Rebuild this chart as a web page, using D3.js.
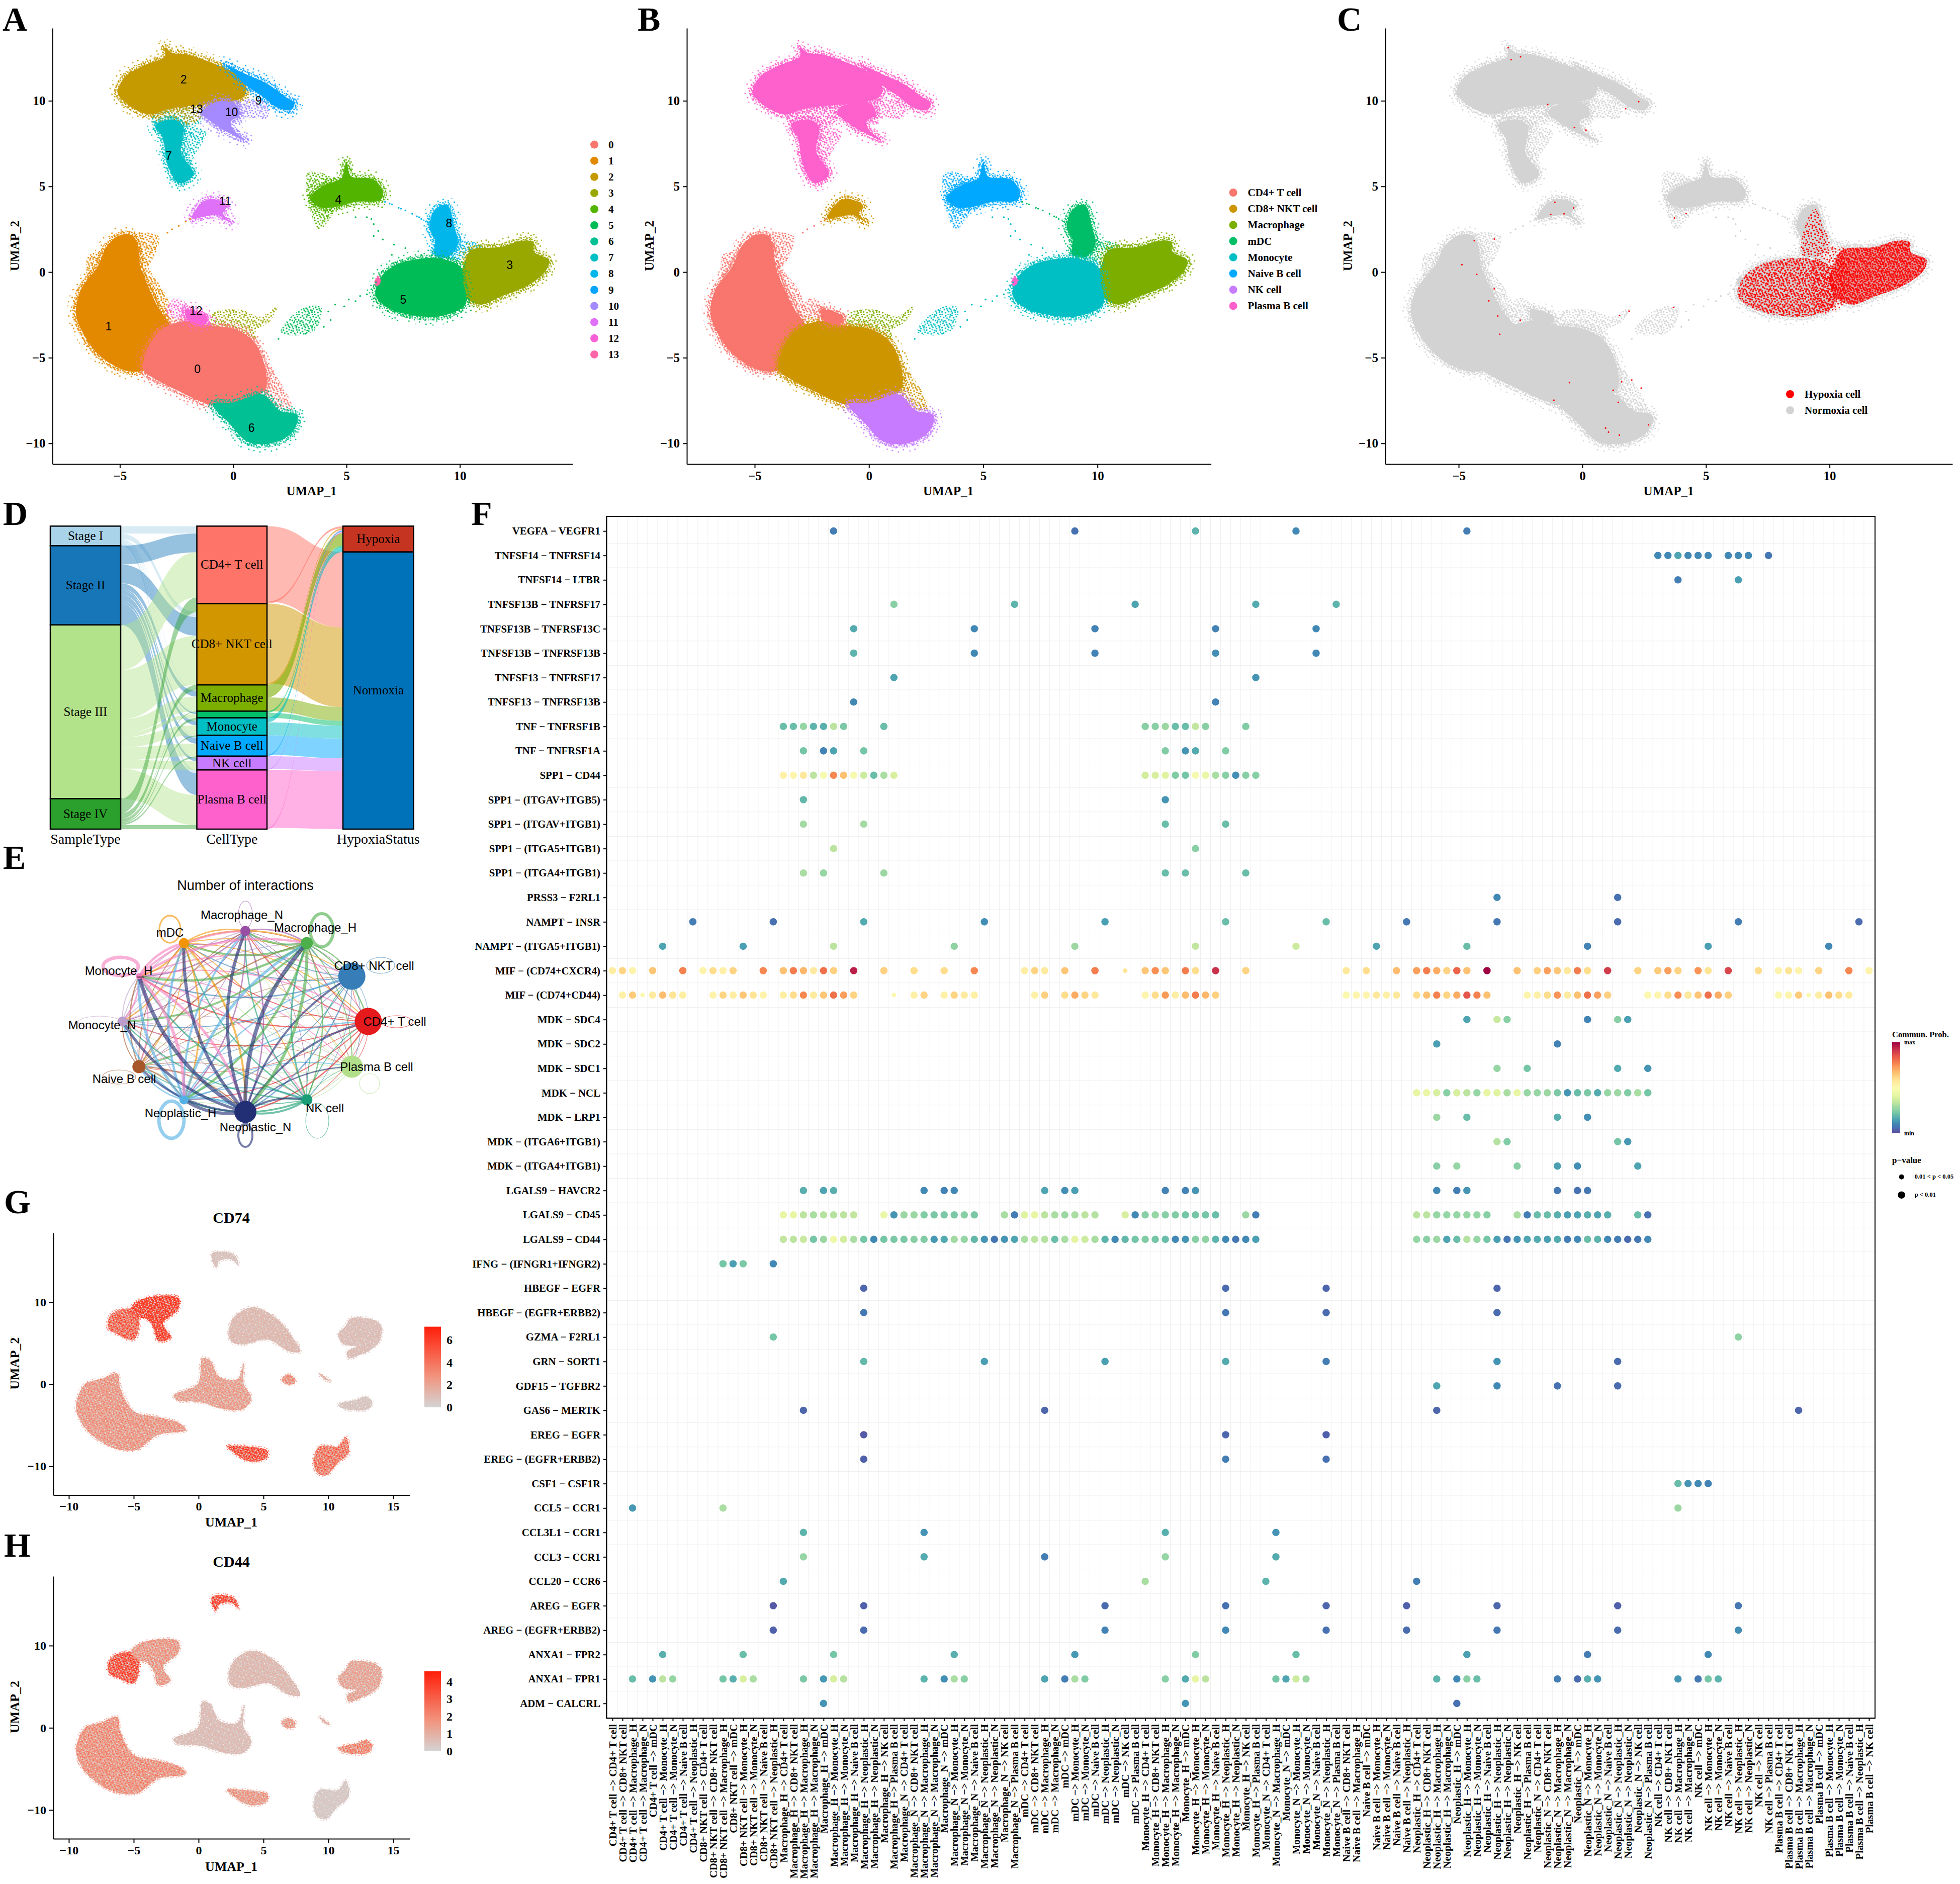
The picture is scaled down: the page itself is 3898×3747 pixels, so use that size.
<!DOCTYPE html>
<html>
<head>
<meta charset="utf-8">
<script src="https://cdn.jsdelivr.net/npm/d3@7"></script>
<style>
  body { margin: 0; background: #fff; }
  text { fill: #000; }
  .serif { font-family: "Liberation Serif", serif; }
  .bold { font-family: "Liberation Serif", serif; font-weight: bold; }
  .sans { font-family: "Liberation Sans", sans-serif; }
</style>
</head>
<body>
<svg id="fig" width="3898" height="3747"></svg>
<script>
// ---- umap outlines (umap units) ----
var clusterNames = ["0","1","2","3","4","5","6","7","8","9","10","11","12","13"];
var clusterColors = ["#F8766D","#E38900","#C49A00","#99A800","#53B400","#00BC56","#00C094","#00BFC4","#00B6EB","#06A4FF","#A58AFF","#DF70F8","#FB61D7","#FF66A8"];
var clusterOutlines = [
  [[-3.85,-4.71],[-3.2,-3.4],[-2,-2.84],[-1.09,-3.12],[.02,-3.31],[.85,-3.97],[1.31,-5.09],[1.44,-6.77],[.94,-7.33],[.02,-7.8],[-1.09,-7.71],[-2.38,-6.96],[-3.48,-6.21],[-3.94,-5.74]],
  [[-6.94,-2.38],[-6.7,-.97],[-5.97,.34],[-5.6,1.46],[-5.05,2.11],[-4.49,2.17],[-4.22,1.65],[-4.1,.34],[-3.7,-.97],[-3.3,-2.1],[-2.7,-3.4],[-3.2,-5],[-3.94,-5.74],[-4.77,-5.74],[-5.87,-4.9],[-6.61,-3.6]],
  [[-5.1,10.5],[-4.77,11.4],[-4.03,12],[-3.02,12.6],[-3.02,13.1],[-2.7,12.8],[-2,12.7],[-.9,12.2],[.02,11.65],[.57,10.9],[.48,10.25],[-.72,9.85],[-2,9.7],[-2.93,9.5],[-3.66,9.2],[-4.4,9.55],[-4.95,10.15]],
  [[10.15,.34],[10.5,1.27],[11.8,1.46],[12.73,1.83],[13.24,1.74],[13.28,1.18],[13.92,.71],[13.83,.15],[13.1,-.7],[11.8,-1.44],[10.88,-1.9],[10.24,-1.44],[10,-.4]],
  [[3.4,4.3],[3.8,4.9],[4.5,5.3],[4.8,5.5],[5,6.4],[5.2,5.6],[6.2,5.4],[6.6,4.7],[6.5,4.2],[5.4,4.1],[4.5,3.8],[3.8,3.8]],
  [[6.56,-.22],[7.2,.43],[8.12,.75],[9.04,.8],[10,.34],[10.15,-.6],[10.24,-1.9],[9.23,-2.56],[8.12,-2.56],[6.83,-2.1],[6.28,-1.35]],
  [[-.9,-7.71],[.02,-7.61],[1.31,-7.15],[2.04,-8.08],[2.82,-8.36],[2.69,-9.2],[2.04,-9.86],[1.12,-10.05],[.57,-9.86],[-.17,-8.83]],
  [[-3.4,8.6],[-2.6,8.9],[-2.2,8.5],[-2.3,7],[-1.75,5.7],[-2.4,5.2],[-2.9,6.3],[-3.1,7.8]],
  [[8.65,2.6],[8.95,3.7],[9.45,3.9],[9.75,2.7],[9.9,1.6],[9.5,.9],[8.9,1],[8.9,1.9]],
  [[-.35,12.1],[.57,11.55],[1.5,11],[2.4,10.15],[2.7,9.88],[2.56,9.47],[1.95,9.6],[1.3,10.25],[.57,10.9],[.1,11.55]],
  [[-1.4,9.3],[-.7,9.95],[.1,9.8],[.3,9.2],[-.1,8.8],[0,8.3],[.55,7.7],[-.3,8.2],[-1,8.8]],
  [[-1.82,3.14],[-1.36,4.08],[-.9,4.27],[-.26,3.9],[-.44,3.42],[-.13,2.92],[-.72,3.33],[-1.27,3.24]],
  [[-2.1,-2.2],[-1.6,-2.3],[-1.15,-2.6],[-1.2,-3],[-2,-2.8]],
  [[6.25,-.55],[6.4,-.25],[6.5,-.6],[6.35,-.8]]
];
var clusterOrder = [1,0,6,12,2,9,10,7,11,4,8,3,5,13];
var clusterLabelPos = [[-1.58,-5.65],[-5.5,-3.16],[-2.19,11.24],[12.2,.4],[4.64,4.23],[7.5,-1.6],[.81,-9.1],[-2.85,6.79],[9.52,2.86],[1.12,10],[-.07,9.35],[-.35,4.13],[-1.64,-2.26],[-1.62,9.5]];
// thin clouds next to the dense areas: [cluster, outline]
var sparseClouds = [
  [3,[[-.9,-3.2],[-.9,-2.4],[.3,-2.2],[1.2,-2.6],[1.95,-2],[1.6,-2.9],[1,-3.4],[1,-3.9],[0,-3.3]]],
  [5,[[2.1,-3.5],[2.4,-2.8],[3.3,-2],[3.9,-2.1],[3.6,-3.4],[2.6,-3.7]]],
  [1,[[-4.4,2.2],[-3.3,2.1],[-3.4,1.2],[-3.9,.2],[-4.2,1]]],
  [1,[[-4.3,1.7],[-3.8,.2],[-3.1,-1],[-2.8,-2.2],[-3.4,-3]]],
  [1,[[-6.4,1],[-5.8,1.1],[-6.4,-.5]]],
  [0,[[1.2,-5],[1.6,-5.5],[2.6,-8],[2,-8],[1.3,-7]]],
  [7,[[-2,8.4],[-1.2,8.2],[-1.8,6.6],[-2,5.9],[-2.3,7.5]]],
  [10,[[-.4,9.9],[1.5,9.9],[1.5,9],[.5,9],[.3,8.6],[-.4,9.2]]],
  [7,[[-3.6,9.5],[-1.6,9.9],[-1.4,8.8],[-3.2,8]]],
  [2,[[-3.6,9.3],[-1,10],[-1.6,8.8],[-3,8.4]]],
  [8,[[9.6,2.2],[10.2,1.9],[11,1.5],[10,.7],[9,.5]]],
  [4,[[3.3,5.8],[4.3,5.5],[4.5,3.8],[3.8,2.5],[3.4,3.6]]],
  [12,[[-3,-2.5],[-2.55,-1.5],[-1.8,-2.1],[-1.1,-2.6],[-1,-3.2],[-2,-2.9]]]
];
var stray8 = [[6.7,4.1],[7,3.95],[7.3,3.75],[7.6,3.6],[7.9,3.4],[8.1,3.25],[8.3,3.1],[8.5,2.95],[8.6,2.8],[6.9,4],[7.4,3.7],[8.2,3.2]];
var stray5 = [[5.4,3.2],[5.9,3.2],[6.1,3.1],[6.2,2.8],[6.4,2.4],[6.2,2.1],[6.6,1.9],[7.1,1.6],[7,1],[7.6,1.4],[8.3,1],[4.2,-2.3],[4.5,-1.9],[4.9,-2],[5.1,-1.6],[5.4,-1.7],[5.6,-1.4],[5.9,-1.3],[6.1,-1],[6.3,-.6],[4,-3.2],[4.3,-2.8],[3.2,-3.6],[2,-3.9]];
var stray1 = [[-2.9,2.3],[-2.7,2.5],[-2.4,2.7],[-2.1,2.95],[-1.9,3.1]];
var hypoxiaStrays = [[-3,13.1],[-2.88,12.4],[-2.5,12.57],[-1.4,9.78],[1.75,9.54],[2.28,9.95],[-.32,8.44],[.15,8.29],[-1.11,4.08],[-1.28,3.37],[-.74,3.4],[-.35,3.74],[3.73,3.16],[4.2,3.42],[-4.37,1.83],[-3.56,1.93],[-4.87,.43],[-4.27,-.13],[-3.56,-.97],[-3.78,-1.68],[-3.42,-2.56],[-2.51,-2.81],[-3.34,-3.63],[1.5,-2.53],[1.89,-2.28],[3.69,-2.06],[-.52,-6.45],[-1.15,-7.48],[1.59,-6.4],[2,-6.3],[2.38,-6.77],[1.25,-6.9],[1.45,-7.6],[.94,-9.11],[1.06,-9.34],[1.5,-9.52],[2.68,-8.92]];
var hypoxia8 = [[8.95,2.4],[9.4,3.7],[9.75,2.6],[10,1.7],[9.6,1],[8.9,1]];
var hypoxiaBridge = [[9.4,1],[10.6,1.4],[10.6,-1.8],[9.6,-2.4]];

var cellNames = ["CD4+ T cell","CD8+ NKT cell","Macrophage","mDC","Monocyte","Naive B cell","NK cell","Plasma B cell"];
var cellColors = ["#F8766D","#CD9600","#7CAE00","#00BE67","#00BFC4","#00A9FF","#C77CFF","#FF61CC"];
var clusterCell = [1,0,7,2,5,4,6,7,3,7,7,1,0,7];

// ---- expression umap ----
var featOutlines = [
  [[-9.44,-2.49],[-8.73,.06],[-7.56,.62],[-6.27,1.3],[-6.03,-.5],[-4.98,-3.3],[-3.1,-4],[-1.46,-4.75],[-.99,-5.6],[-3.1,-6.16],[-4.74,-7.97],[-6.38,-7.85],[-8.26,-6.16],[-9.2,-4.18]],
  [[-6.97,6.84],[-6.74,8.53],[-5.2,9.2],[-4.6,8.2],[-4.98,5.42],[-6.15,6]],
  [[-5.2,9.2],[-4.74,10.1],[-2.86,10.8],[-1.57,10.5],[-1.57,9.1],[-2.75,7.4],[-2.16,5.7],[-3.1,5.25],[-3.45,6.84],[-4.04,7.97],[-4.6,8.2]],
  [[2.3,6.27],[2.77,8.25],[4.18,9.38],[5.82,8.25],[7,6.27],[7.82,4],[7,4],[5.35,5.42],[3.47,4.86],[2.54,5.14]],
  [[-1.92,-1.36],[-.05,.06],[.3,3.16],[.89,2.88],[1.6,.9],[3,.62],[3.47,2.6],[3.47,.06],[4.06,-1.64],[3.47,-3],[1.83,-3],[.19,-2.2],[-1.69,-1.92]],
  [[2.18,-7.57],[3.47,-7.57],[5.3,-8.1],[5.23,-9],[3.94,-9.4],[2.77,-8.4]],
  [[8.87,-9],[9.34,-7.57],[10.75,-7.57],[11.34,-6.44],[11.57,-8.4],[10.75,-9.55],[9.8,-11.1],[9.1,-10.7]],
  [[10.75,-2.5],[12.16,-1.9],[12.98,-1.5],[13.38,-2.2],[13.1,-3],[11.2,-3]],
  [[10.75,6],[11.34,7.1],[11.7,8],[13.1,8],[14,7.3],[14,5.4],[13.1,4],[12.6,3.7],[11.57,3.16],[11.46,4],[12.16,4.58],[11.2,4.86]],
  [[1,15.87],[1.6,16.16],[2.77,15.76],[3.07,14.46],[2.54,15.2],[1.6,15],[1.36,14.18]],
  [[6.4,.62],[6.88,1.19],[7.46,.62],[7.35,.06],[6.64,.06]],
  [[9.3,1.36],[10.16,.34],[9.58,.73]]
];
var cd74Levels = [2.4,4.2,5.6,1.1,2.1,5,3.6,.6,.9,.7,2.6,1.4];
var cd44Levels = [1.7,3.1,1.5,.7,.6,1.5,.3,1.9,1.2,3.2,1.4,.9];
var cd74Ticks = [0,2,4,6];
var cd44Ticks = [0,1,2,3,4];

// ---- sankey ----
var stageNames = ["Stage I","Stage II","Stage III","Stage IV"];
var stageColors = ["#A9D3E9","#1676B8","#B2E38A","#2CA02C"];
var sankeyCells = ["CD4+ T cell","CD8+ NKT cell","Macrophage","mDC","Monocyte","Naive B cell","NK cell","Plasma B cell"];
var sankeyCellColors = ["#FF7468","#D19600","#7CAE00","#00BE67","#00BFC4","#00A9FF","#C77CFF","#FF61CC"];
var stageToCell = [
  [18,12,2,1,2,3,1,8],
  [45,45,13,4,10,14,7,52],
  [108,118,35,9,24,30,21,72],
  [15,20,13,2,6,3,4,10]
];
var cellStageOrder = [[0,1,2,3],[3,0,1,2],[3,0,1,2],[3,0,1,2],[3,0,1,2],[3,0,1,2],[3,0,1,2],[0,1,2,3]];
var hypoxiaNames = ["Hypoxia","Normoxia"];
var hypoxiaColors = ["#C43421","#0072BA"];
var hypoxiaCounts = [5,4,30,4,11,3,2,3];
var normoxiaCounts = [181,191,33,12,31,47,31,139];
var hypoxiaFirst = [0,0,1,1,1,0,0,0];
var hypoxiaStackOrder = [0,1,6,5,7,2,3,4];

// ---- interaction network ----
var netNames = ["CD4+ T cell","CD8+ NKT cell","Macrophage_H","Macrophage_N","mDC","Monocyte_H","Monocyte_N","Naive B cell","Neoplastic_H","Neoplastic_N","NK cell","Plasma B cell"];
var netColors = ["#E41A1C","#377EB8","#4DAF4A","#984EA3","#F29403","#F781BF","#BC9DCC","#A65628","#54B0E4","#222F75","#1B9E77","#B2DF8A"];
var netSizes = [27,27,12,10,10,6,10,13,9,22,11,22];
var netCounts = [
  [1,1,2,2,2,3,2,1,2,3,1,1],
  [1,1,2,2,2,3,2,1,2,3,1,1],
  [3,3,8,5,5,6,5,3,6,8,3,2],
  [1,1,3,1,2,3,2,1,3,3,1,1],
  [2,2,4,3,4,4,3,2,4,5,2,1],
  [3,3,6,5,6,9,4,3,8,7,3,2],
  [1,1,2,2,2,2,1,1,2,2,1,1],
  [1,1,3,2,2,3,2,1,3,3,1,1],
  [3,3,7,5,6,7,5,3,9,6,3,2],
  [5,5,10,8,8,10,7,5,8,5,5,3],
  [2,2,4,3,3,4,3,2,4,5,1,1],
  [1,1,1,1,1,1,1,1,1,1,1,1]
];
// self loops drawn as ellipses: cx, cy, rx, ry
var netLoops = [[789,2032,31,12],[757,1920,28,16],[640,1850,23,33],[488,1819,14,27],[338,1848,21,27],[240,1922,35,18],[198,2033,43,12],[237,2142,33,14],[341,2227,25,37],[488,2258,14,23],[631,2229,23,35],[735,2155,20,20]];

// ---- bubble plot ----
var ligandPairs = ["VEGFA − VEGFR1","TNFSF14 − TNFRSF14","TNFSF14 − LTBR","TNFSF13B − TNFRSF17","TNFSF13B − TNFRSF13C","TNFSF13B − TNFRSF13B","TNFSF13 − TNFRSF17","TNFSF13 − TNFRSF13B","TNF − TNFRSF1B","TNF − TNFRSF1A","SPP1 − CD44","SPP1 − (ITGAV+ITGB5)","SPP1 − (ITGAV+ITGB1)","SPP1 − (ITGA5+ITGB1)","SPP1 − (ITGA4+ITGB1)","PRSS3 − F2RL1","NAMPT − INSR","NAMPT − (ITGA5+ITGB1)","MIF − (CD74+CXCR4)","MIF − (CD74+CD44)","MDK − SDC4","MDK − SDC2","MDK − SDC1","MDK − NCL","MDK − LRP1","MDK − (ITGA6+ITGB1)","MDK − (ITGA4+ITGB1)","LGALS9 − HAVCR2","LGALS9 − CD45","LGALS9 − CD44","IFNG − (IFNGR1+IFNGR2)","HBEGF − EGFR","HBEGF − (EGFR+ERBB2)","GZMA − F2RL1","GRN − SORT1","GDF15 − TGFBR2","GAS6 − MERTK","EREG − EGFR","EREG − (EGFR+ERBB2)","CSF1 − CSF1R","CCL5 − CCR1","CCL3L1 − CCR1","CCL3 − CCR1","CCL20 − CCR6","AREG − EGFR","AREG − (EGFR+ERBB2)","ANXA1 − FPR2","ANXA1 − FPR1","ADM − CALCRL"];
var T4 = "CD4+ T cell", T8 = "CD8+ NKT cell", MH = "Macrophage_H", MN = "Macrophage_N", DC = "mDC", OH = "Monocyte_H", ON = "Monocyte_N", NB = "Naive B cell", PH = "Neoplastic_H", PN = "Neoplastic_N", NK = "NK cell", PB = "Plasma B cell";
var senderTargets = [
  [T4,[T4,T8,MH,MN,DC,OH,ON,NB,PH]],
  [T8,[T4,T8,MH,DC,OH,ON,NB,PH]],
  [MH,[T4,T8,MH,MN,DC,OH,ON,NB,PH,PN,NK,PB]],
  [MN,[T4,T8,MH,MN,DC,OH,ON,NB,PH,PN,NK,PB]],
  [DC,[T4,T8,MH,MN,DC,OH,ON,NB,PH,PN,NK,PB]],
  [OH,[T4,T8,MH,MN,DC,OH,ON,NB,PH,PN,NK,PB]],
  [ON,[T4,MH,DC,OH,ON,NB,PH,PB]],
  [NB,[T8,MH,DC,OH,ON,NB,PH]],
  [PH,[T4,T8,MH,MN,DC,OH,ON,NB,PH,PN,NK,PB]],
  [PN,[T4,T8,MH,MN,DC,OH,ON,NB,PH,PN,NK,PB]],
  [NK,[T4,T8,MH,MN,DC,OH,ON,NB,PH,PN,NK,PB]],
  [PB,[T4,T8,MH,MN,DC,OH,ON,NB,PH,NK]]
];
// [column, commun. prob. 0..1], one list per row
var probByRow = [
  [[22,.08],[46,.06],[58,.18],[68,.1],[85,.08]],
  [[104,.1],[105,.1],[106,.15],[107,.1],[108,.1],[109,.1],[111,.1],[112,.1],[113,.1],[115,.07]],
  [[106,.08],[112,.14]],
  [[28,.25],[40,.18],[52,.15],[64,.16],[72,.18]],
  [[24,.16],[36,.1],[48,.09],[60,.09],[70,.1]],
  [[24,.18],[36,.1],[48,.09],[60,.11],[70,.1]],
  [[28,.15],[64,.12]],
  [[24,.1],[60,.09]],
  [[17,.2],[18,.2],[19,.27],[20,.18],[21,.17],[22,.33],[23,.23],[27,.2],[53,.25],[54,.25],[55,.28],[56,.2],[57,.2],[58,.34],[59,.25],[63,.24]],
  [[19,.22],[21,.09],[22,.15],[25,.22],[55,.24],[57,.12],[58,.16],[61,.24]],
  [[17,.54],[18,.52],[19,.57],[20,.33],[21,.47],[22,.76],[23,.66],[24,.47],[25,.36],[26,.2],[27,.3],[28,.38],[53,.37],[54,.38],[55,.4],[56,.24],[57,.22],[58,.47],[59,.43],[60,.3],[61,.25],[62,.11],[63,.25],[64,.25]],
  [[19,.19],[55,.12]],
  [[19,.29],[25,.29],[55,.2],[61,.2]],
  [[22,.33],[58,.25]],
  [[19,.3],[21,.27],[27,.28],[55,.2],[57,.2],[63,.2]],
  [[88,.1],[100,.06]],
  [[8,.08],[16,.06],[25,.16],[37,.11],[49,.14],[61,.2],[71,.2],[79,.07],[88,.07],[100,.05],[112,.08],[124,.05]],
  [[5,.15],[13,.14],[22,.33],[34,.26],[46,.28],[58,.34],[68,.36],[76,.15],[85,.2],[97,.09],[109,.14],[121,.1]],
  [[0,.55],[1,.62],[2,.53],[4,.65],[7,.77],[9,.53],[10,.6],[11,.54],[12,.62],[15,.76],[17,.66],[18,.78],[19,.68],[20,.56],[21,.8],[22,.63],[24,.95],[27,.63],[30,.6],[33,.6],[36,.76],[41,.55],[42,.62],[43,.56],[45,.65],[48,.78],[51,.58],[53,.65],[54,.75],[55,.65],[57,.78],[58,.6],[60,.92],[63,.62],[73,.57],[75,.6],[78,.67],[80,.72],[81,.78],[82,.7],[83,.62],[84,.82],[85,.66],[87,1],[90,.66],[92,.63],[93,.72],[94,.65],[95,.57],[96,.78],[97,.6],[99,.9],[102,.62],[104,.64],[105,.72],[106,.62],[108,.74],[109,.58],[111,.88],[114,.6],[116,.53],[117,.58],[118,.53],[120,.62],[123,.76],[125,.53]],
  [[1,.54],[2,.64],[3,.5],[4,.56],[5,.67],[6,.58],[7,.55],[10,.53],[11,.62],[12,.55],[13,.65],[14,.58],[15,.53],[17,.55],[18,.6],[19,.76],[20,.56],[21,.65],[22,.8],[23,.72],[24,.62],[28,.5],[30,.54],[31,.62],[33,.54],[34,.62],[35,.56],[36,.54],[42,.54],[43,.63],[45,.6],[46,.7],[47,.62],[48,.57],[53,.52],[54,.6],[55,.73],[56,.55],[57,.67],[58,.78],[59,.68],[60,.63],[73,.5],[74,.52],[75,.52],[76,.57],[77,.54],[78,.57],[80,.6],[81,.66],[82,.77],[83,.62],[84,.7],[85,.85],[86,.77],[87,.66],[91,.52],[92,.54],[93,.6],[94,.74],[95,.56],[96,.66],[97,.8],[98,.72],[99,.63],[103,.5],[104,.52],[105,.6],[106,.75],[107,.57],[108,.65],[109,.8],[110,.7],[111,.63],[116,.5],[117,.52],[118,.64],[119,.48],[120,.55],[121,.66],[122,.6],[123,.56]],
  [[85,.15],[88,.35],[89,.25],[97,.09],[100,.25],[101,.14]],
  [[82,.14],[94,.09]],
  [[88,.27],[91,.22],[100,.16],[103,.12]],
  [[80,.42],[81,.43],[82,.38],[83,.25],[84,.38],[85,.33],[86,.27],[87,.42],[88,.4],[89,.3],[90,.42],[91,.27],[92,.27],[93,.28],[94,.23],[95,.12],[96,.2],[97,.23],[98,.16],[99,.27],[100,.28],[101,.24],[102,.3],[103,.22]],
  [[82,.28],[85,.2],[94,.17],[97,.11]],
  [[88,.32],[89,.24],[100,.22],[101,.13]],
  [[82,.25],[84,.27],[90,.25],[94,.14],[96,.11],[102,.15]],
  [[19,.17],[21,.15],[22,.17],[31,.1],[33,.09],[34,.1],[43,.15],[45,.11],[46,.14],[55,.09],[57,.09],[58,.12],[82,.1],[84,.08],[85,.12],[94,.07],[96,.06],[97,.07]],
  [[17,.42],[18,.42],[19,.33],[20,.3],[21,.32],[22,.32],[23,.33],[24,.34],[27,.43],[28,.12],[29,.28],[30,.28],[31,.24],[32,.23],[33,.23],[34,.23],[35,.25],[36,.23],[39,.3],[40,.08],[41,.4],[42,.42],[43,.33],[44,.3],[45,.28],[46,.3],[47,.33],[48,.32],[51,.38],[52,.1],[53,.25],[54,.27],[55,.25],[56,.24],[57,.22],[58,.22],[59,.22],[60,.2],[63,.28],[64,.08],[80,.33],[81,.33],[82,.27],[83,.27],[84,.27],[85,.27],[86,.27],[87,.25],[90,.3],[91,.08],[92,.2],[93,.2],[94,.17],[95,.14],[96,.15],[97,.17],[98,.15],[99,.17],[102,.2],[103,.06]],
  [[17,.34],[18,.33],[19,.35],[20,.22],[21,.28],[22,.44],[23,.37],[24,.3],[25,.22],[26,.1],[27,.22],[28,.23],[29,.23],[30,.25],[31,.24],[32,.13],[33,.16],[34,.29],[35,.27],[36,.19],[37,.12],[38,.07],[39,.12],[40,.15],[41,.3],[42,.33],[43,.32],[44,.2],[45,.3],[46,.41],[47,.36],[48,.3],[49,.18],[50,.1],[51,.19],[52,.22],[53,.24],[54,.22],[55,.2],[56,.1],[57,.12],[58,.25],[59,.26],[60,.18],[61,.1],[62,.07],[63,.1],[64,.14],[80,.27],[81,.25],[82,.28],[83,.15],[84,.2],[85,.32],[86,.27],[87,.22],[88,.14],[89,.07],[90,.12],[91,.15],[92,.16],[93,.14],[94,.16],[95,.08],[96,.1],[97,.2],[98,.18],[99,.1],[100,.08],[101,.05],[102,.07],[103,.1]],
  [[11,.22],[12,.14],[13,.23],[16,.1]],
  [[25,.04],[61,.05],[71,.04],[88,.04]],
  [[25,.07],[61,.07],[71,.05],[88,.05]],
  [[16,.22],[112,.26]],
  [[25,.19],[37,.14],[49,.14],[61,.16],[71,.08],[88,.12],[100,.05]],
  [[82,.15],[88,.1],[94,.06],[100,.05]],
  [[19,.04],[43,.04],[82,.04],[118,.04]],
  [[25,.02],[61,.04],[71,.03]],
  [[25,.03],[61,.08],[71,.06]],
  [[106,.2],[107,.12],[108,.1],[109,.09]],
  [[2,.13],[11,.3],[106,.28]],
  [[19,.18],[31,.12],[55,.17],[66,.12]],
  [[19,.27],[31,.16],[43,.08],[55,.27],[66,.16]],
  [[17,.16],[53,.3],[65,.18],[80,.08]],
  [[16,.02],[25,.03],[49,.05],[61,.06],[71,.04],[79,.03],[88,.04],[100,.03],[112,.07]],
  [[16,.03],[25,.05],[49,.09],[61,.1],[71,.06],[79,.05],[88,.07],[100,.05],[112,.11]],
  [[5,.17],[13,.2],[22,.22],[34,.17],[46,.13],[58,.24],[68,.2],[85,.14],[97,.08],[109,.1]],
  [[2,.2],[4,.12],[5,.33],[6,.27],[11,.22],[12,.17],[13,.38],[14,.3],[19,.23],[21,.13],[22,.38],[23,.32],[31,.18],[33,.11],[34,.3],[35,.25],[43,.15],[45,.08],[46,.3],[47,.24],[55,.25],[57,.16],[58,.42],[59,.33],[66,.22],[67,.15],[68,.36],[69,.28],[82,.18],[84,.1],[85,.25],[86,.2],[94,.08],[96,.05],[97,.17],[98,.12],[106,.12],[108,.07],[109,.22],[110,.18]],
  [[21,.12],[57,.12],[84,.06]]
];
// 0.01 < p < 0.05 dots: [row, column]
var weakDots = [[18,51],[19,3],[19,28],[19,119]];

// ---- helpers ----
var svg = d3.select("#fig");
var defs = svg.append("defs");
// grain of the dense umap clouds, only a texture
var speckleTile = [[4,3],[17,8],[26,1],[41,6],[55,2],[9,14],[22,17],[33,12],[47,15],[58,11],[2,24],[14,27],[29,23],[38,26],[51,22],[7,36],[19,33],[31,39],[44,34],[56,31],[12,44],[24,47],[36,43],[49,46],[59,41],[3,53],[16,56],[28,52],[42,57],[53,54],[8,29],[35,4],[46,28],[21,41],[54,48],[39,50]];
var speckleSeen = {};
function speckle(color, r, scale) {
  scale = scale || 1;
  var id = "sp" + color.replace(/\W/g, "") + "_" + String(r).replace(".", "") + "_" + String(scale).replace(".", "");
  if (!speckleSeen[id]) {
    speckleSeen[id] = true;
    var p = defs.append("pattern").attr("id", id).attr("patternUnits", "userSpaceOnUse")
      .attr("width", 48).attr("height", 48)
      .attr("patternTransform", "scale(" + scale + ")");
    p.selectAll("circle").data(speckleTile).enter().append("circle")
      .attr("cx", function(d) { return d[0] * 0.8; })
      .attr("cy", function(d) { return d[1] * 0.8; })
      .attr("r", r / scale)
      .attr("fill", color);
  }
  return "url(#" + id + ")";
}
function blobLine(x, y) {
  return d3.line().x(function(d) { return x(d[0]); }).y(function(d) { return y(d[1]); }).curve(d3.curveCatmullRomClosed.alpha(0.5));
}
function styleAxis(g, size) {
  g.selectAll("text").attr("class", "bold").style("font-size", size + "px");
  g.selectAll("path,line").attr("stroke", "#000").attr("stroke-width", 2);
}
function umapAxes(x, y, xTicks, yTicks, fontSize) {
  var b = x.range(), h = y.range();
  svg.append("g").attr("transform", "translate(0," + h[0] + ")")
    .call(d3.axisBottom(x).tickValues(xTicks).tickSize(8).tickSizeOuter(0).tickPadding(6))
    .call(styleAxis, fontSize);
  svg.append("g").attr("transform", "translate(" + b[0] + ",0)")
    .call(d3.axisLeft(y).tickValues(yTicks).tickSize(8).tickSizeOuter(0).tickPadding(6))
    .call(styleAxis, fontSize);
}
function axisTitle(txt, px, py, size, rot) {
  var t = svg.append("text").attr("class", "bold").attr("text-anchor", "middle").style("font-size", size + "px").text(txt);
  if (rot) t.attr("transform", "translate(" + px + "," + py + ") rotate(-90)");
  else t.attr("x", px).attr("y", py);
}
function panelLetter(s, px, py) {
  svg.append("text").attr("class", "bold").attr("x", px).attr("y", py).style("font-size", "68px").text(s);
}
function drawUmap(x, y, colorOf) {
  var line = blobLine(x, y);
  var g = svg.append("g");
  sparseClouds.forEach(function(c) {
    g.append("path").attr("d", line(c[1])).attr("fill", speckle(colorOf(c[0]), 1.7, 0.65));
  });
  clusterOrder.forEach(function(k) {
    var c = colorOf(k);
    g.append("path").attr("d", line(clusterOutlines[k]))
      .attr("fill", "none")
      .attr("stroke", speckle(c, 1.5, 1.15))
      .attr("stroke-width", k == 13 ? 6 : 34);
    g.append("path").attr("d", line(clusterOutlines[k]))
      .attr("fill", c)
      .attr("stroke", speckle(c, 1.7, 0.55))
      .attr("stroke-width", k == 13 ? 3 : 14);
  });
  [[stray8, 8], [stray5, 5], [stray1, 1]].forEach(function(s) {
    g.selectAll(null).data(s[0]).enter().append("circle")
      .attr("cx", function(d) { return x(d[0]); })
      .attr("cy", function(d) { return y(d[1]); })
      .attr("r", 1.8)
      .attr("fill", colorOf(s[1]));
  });
}
function pointLegend(names, colors, dotX, textX, y0, step) {
  names.forEach(function(n, i) {
    svg.append("circle").attr("cx", dotX).attr("cy", y0 + i * step).attr("r", 8).attr("fill", colors[i]);
    svg.append("text").attr("class", "bold").attr("x", textX).attr("y", y0 + i * step + 7).style("font-size", "21px").text(n);
  });
}

// ---- A ----
var umapX = [-7.97, 14.97], umapY = [-11.21, 14.24];
var xA = d3.scaleLinear().domain(umapX).range([104.5, 1138.5]);
var yA = d3.scaleLinear().domain(umapY).range([923, 56]);
drawUmap(xA, yA, function(k) { return clusterColors[k]; });
clusterNames.forEach(function(n, i) {
  svg.append("text").attr("class", "sans").attr("text-anchor", "middle")
    .attr("x", xA(clusterLabelPos[i][0])).attr("y", yA(clusterLabelPos[i][1]) + 8)
    .style("font-size", "23px").text(n);
});
umapAxes(xA, yA, [-5, 0, 5, 10], [-10, -5, 0, 5, 10], 25);
axisTitle("UMAP_1", 619.4, 985, 25);
axisTitle("UMAP_2", 38, 489, 25, true);
pointLegend(clusterNames, clusterColors, 1182, 1210, 287.6, 32.1);
panelLetter("A", 5, 61);

// ---- B ----
var xB = d3.scaleLinear().domain(umapX).range([1366, 2408.6]);
var yB = d3.scaleLinear().domain(umapY).range([923, 56]);
drawUmap(xB, yB, function(k) { return cellColors[clusterCell[k]]; });
umapAxes(xB, yB, [-5, 0, 5, 10], [-10, -5, 0, 5, 10], 25);
axisTitle("UMAP_1", 1886, 985, 25);
axisTitle("UMAP_2", 1300, 489, 25, true);
pointLegend(cellNames, cellColors, 2452.6, 2481.6, 383, 32.2);
panelLetter("B", 1268, 61);

// ---- C ----
var xC = d3.scaleLinear().domain(umapX).range([2755, 3883]);
var yC = d3.scaleLinear().domain(umapY).range([923, 56]);
drawUmap(xC, yC, function() { return "#D3D3D3"; });
var lineC = blobLine(xC, yC);
svg.append("path").attr("d", lineC(clusterOutlines[3])).attr("fill", "#FF0000").attr("fill-opacity", 0.25);
svg.append("path").attr("d", lineC(clusterOutlines[3])).attr("fill", speckle("#FF0000", 1.8, 0.55));
svg.append("path").attr("d", lineC(clusterOutlines[3])).attr("fill", speckle("#FF0000", 1.6, 0.83));
svg.append("path").attr("d", lineC(clusterOutlines[5])).attr("fill", speckle("#FF0000", 1.8, 0.65));
svg.append("path").attr("d", lineC(clusterOutlines[5])).attr("fill", speckle("#FF0000", 1.6, 1.07));
svg.append("path").attr("d", lineC(hypoxiaBridge)).attr("fill", speckle("#FF0000", 1.7, 0.8));
svg.append("path").attr("d", lineC(hypoxia8)).attr("fill", speckle("#FF0000", 1.7, 0.75));
svg.selectAll(null).data(hypoxiaStrays).enter().append("circle")
  .attr("cx", function(d) { return xC(d[0]); })
  .attr("cy", function(d) { return yC(d[1]); })
  .attr("r", 1.6)
  .attr("fill", "#FF0000");
umapAxes(xC, yC, [-5, 0, 5, 10], [-10, -5, 0, 5, 10], 25);
axisTitle("UMAP_1", 3318.6, 985, 25);
axisTitle("UMAP_2", 2689, 489, 25, true);
pointLegend(["Hypoxia cell", "Normoxia cell"], ["#FF0000", "#D3D3D3"], 3560, 3589, 784, 32);
panelLetter("C", 2659, 61);

// ---- D sankey ----
var sankeyY = d3.scaleLinear().domain([0, 727]).range([1046.4, 1649]);
var sankeyX = [[100, 240], [391.5, 531], [682, 822.6]];
var ribbon = d3.area().x(function(d) { return d.x; }).y0(function(d) { return sankeyY(d.a); }).y1(function(d) { return sankeyY(d.b); }).curve(d3.curveBumpX);
var cellTotals = sankeyCells.map(function(c, i) { return hypoxiaCounts[i] + normoxiaCounts[i]; });
var stageTotals = stageToCell.map(function(r) { return d3.sum(r); });
var hypoxiaTotals = [d3.sum(hypoxiaCounts), d3.sum(normoxiaCounts)];
function tops(v) { var out = [0]; v.forEach(function(d) { out.push(out[out.length - 1] + d); }); return out; }
var stageTop = tops(stageTotals), cellTop = tops(cellTotals), hypTop = tops(hypoxiaTotals);

// left ribbons
var gFlow = svg.append("g");
var stageOff = stageTop.slice();
var cellOff = {};
sankeyCells.forEach(function(c, ci) {
  var off = cellTop[ci];
  cellStageOrder[ci].forEach(function(si) {
    cellOff[si + "_" + ci] = off;
    off += stageToCell[si][ci];
  });
});
stageNames.forEach(function(s, si) {
  sankeyCells.forEach(function(c, ci) {
    var w = stageToCell[si][ci], a = stageOff[si];
    stageOff[si] += w;
    var b = cellOff[si + "_" + ci];
    gFlow.append("path")
      .attr("d", ribbon([{x: sankeyX[0][1], a: a, b: a + w}, {x: sankeyX[1][0], a: b, b: b + w}]))
      .attr("fill", stageColors[si]).attr("fill-opacity", 0.45);
  });
});
// right ribbons
var hypOff = hypTop[0];
var hypStart = {};
hypoxiaStackOrder.forEach(function(ci) { hypStart[ci] = hypOff; hypOff += hypoxiaCounts[ci]; });
var normOff = hypTop[1];
sankeyCells.forEach(function(c, ci) {
  var top = cellTop[ci];
  var nTop = hypoxiaFirst[ci] ? top + hypoxiaCounts[ci] : top;
  gFlow.append("path")
    .attr("d", ribbon([{x: sankeyX[1][1], a: nTop, b: nTop + normoxiaCounts[ci]}, {x: sankeyX[2][0], a: normOff, b: normOff + normoxiaCounts[ci]}]))
    .attr("fill", sankeyCellColors[ci]).attr("fill-opacity", 0.5);
  normOff += normoxiaCounts[ci];
});
sankeyCells.forEach(function(c, ci) {
  var top = cellTop[ci];
  var hTop = hypoxiaFirst[ci] ? top : top + normoxiaCounts[ci];
  gFlow.append("path")
    .attr("d", ribbon([{x: sankeyX[1][1], a: hTop, b: hTop + hypoxiaCounts[ci]}, {x: sankeyX[2][0], a: hypStart[ci], b: hypStart[ci] + hypoxiaCounts[ci]}]))
    .attr("fill", sankeyCellColors[ci]).attr("fill-opacity", 0.6);
});
function stratum(names, totals, top, colors, col) {
  names.forEach(function(n, i) {
    svg.append("rect").attr("x", sankeyX[col][0]).attr("width", sankeyX[col][1] - sankeyX[col][0])
      .attr("y", sankeyY(top[i])).attr("height", sankeyY(totals[i]) - sankeyY(0))
      .attr("fill", colors[i]).attr("stroke", "#000").attr("stroke-width", 2.5);
    if (totals[i] > 20)
      svg.append("text").attr("class", "serif").attr("text-anchor", "middle")
        .attr("x", (sankeyX[col][0] + sankeyX[col][1]) / 2)
        .attr("y", sankeyY(top[i] + totals[i] / 2) + 8)
        .style("font-size", "25px").text(n);
  });
}
stratum(stageNames, stageTotals, stageTop, stageColors, 0);
stratum(sankeyCells, cellTotals, cellTop, sankeyCellColors, 1);
stratum(hypoxiaNames, hypoxiaTotals, hypTop, hypoxiaColors, 2);
["SampleType", "CellType", "HypoxiaStatus"].forEach(function(t, i) {
  svg.append("text").attr("class", "serif").attr("text-anchor", "middle")
    .attr("x", (sankeyX[i][0] + sankeyX[i][1]) / 2).attr("y", 1678).style("font-size", "28px").text(t);
});
panelLetter("D", 6, 1044);

// ---- E network ----
var netAngle = d3.scaleLinear().domain([0, 12]).range([0, 2 * Math.PI]);
var netCx = 488, netCy = 2031.5, netRx = 244.5, netRy = 180;
function netX(i) { return netCx + netRx * Math.cos(netAngle(i)); }
function netY(i) { return netCy - netRy * Math.sin(netAngle(i)); }
var netPairs = [];
netCounts.forEach(function(row, i) {
  row.forEach(function(c, j) { netPairs.push({s: i, t: j, c: c}); });
});
netPairs.sort(function(a, b) { return a.c - b.c; });
var gNet = svg.append("g").attr("fill", "none").attr("stroke-linecap", "round");
netPairs.forEach(function(d) {
  var width = 0.4 + d.c * 0.72;
  if (d.s == d.t) {
    var lp = netLoops[d.s];
    gNet.append("ellipse").attr("cx", lp[0]).attr("cy", lp[1]).attr("rx", lp[2]).attr("ry", lp[3])
      .attr("stroke", netColors[d.s]).attr("stroke-opacity", 0.62).attr("stroke-width", width);
    return;
  }
  var x0 = netX(d.s), y0 = netY(d.s), x1 = netX(d.t), y1 = netY(d.t);
  var mx = (x0 + x1) / 2, my = (y0 + y1) / 2;
  var dx = x1 - x0, dy = y1 - y0;
  var path = "M" + x0 + "," + y0 + " Q" + (mx + dy * 0.2) + "," + (my - dx * 0.2) + " " + x1 + "," + y1;
  gNet.append("path").attr("d", path)
    .attr("stroke", netColors[d.s]).attr("stroke-opacity", 0.62)
    .attr("stroke-width", width);
});
netNames.forEach(function(n, i) {
  svg.append("circle").attr("cx", netX(i)).attr("cy", netY(i))
    .attr("r", netSizes[i]).attr("fill", netColors[i]);
});
var netLabelPos = [[785,2040],[744,1929],[627,1853],[481,1828],[338,1863],[236,1939],[203,2047],[247,2154],[359,2222],[508,2250],[646,2212],[749,2130]];
netNames.forEach(function(n, i) {
  svg.append("text").attr("class", "sans").attr("text-anchor", "middle")
    .attr("x", netLabelPos[i][0]).attr("y", netLabelPos[i][1]).style("font-size", "24px").text(n);
});
svg.append("text").attr("class", "sans").attr("text-anchor", "middle").attr("x", 488).attr("y", 1770).style("font-size", "27px").text("Number of interactions");
panelLetter("E", 6, 1728);

// ---- F bubble ----
var pairLabels = [];
senderTargets.forEach(function(s) {
  s[1].forEach(function(t) { pairLabels.push(s[0] + " −> " + t); });
});
var xDot = d3.scalePoint().domain(pairLabels).range([1206, 3729]).padding(0.6);
var yDot = d3.scalePoint().domain(ligandPairs).range([1027, 3417]).padding(0.6);
var stepX = xDot.step(), stepY = yDot.step();
var gGrid = svg.append("g").attr("stroke", "#EFEFEF").attr("stroke-width", 1);
pairLabels.slice(1).forEach(function(l) {
  gGrid.append("line").attr("x1", xDot(l) - stepX / 2).attr("x2", xDot(l) - stepX / 2).attr("y1", 1027).attr("y2", 3417);
});
ligandPairs.slice(1).forEach(function(l) {
  gGrid.append("line").attr("x1", 1206).attr("x2", 3729).attr("y1", yDot(l) - stepY / 2).attr("y2", yDot(l) - stepY / 2);
});
var gx = svg.append("g").attr("transform", "translate(0,3417)")
  .call(d3.axisBottom(xDot).tickSize(6).tickSizeOuter(0).tickPadding(6));
gx.call(styleAxis, 20.6);
gx.selectAll("text")
  .attr("text-anchor", "end").attr("transform", "rotate(-90)")
  .attr("x", -12).attr("y", 0).attr("dy", "0.35em");
var gy = svg.append("g").attr("transform", "translate(1206,0)")
  .call(d3.axisLeft(yDot).tickSize(6).tickSizeOuter(0).tickPadding(6));
gy.call(styleAxis, 20.8);
var spectral = function(v) { return d3.interpolateSpectral(1 - v); };
var weakSet = {};
weakDots.forEach(function(d) { weakSet[d[0] + "_" + d[1]] = true; });
probByRow.forEach(function(row, ri) {
  svg.append("g").selectAll("circle").data(row).enter().append("circle")
    .attr("cx", function(d) { return xDot(pairLabels[d[0]]); })
    .attr("cy", yDot(ligandPairs[ri]))
    .attr("r", function(d) { return weakSet[ri + "_" + d[0]] ? 4.6 : 7.3; })
    .attr("fill", function(d) { return spectral(d[1]); });
});
svg.append("rect").attr("x", 1206).attr("y", 1027).attr("width", 2523).attr("height", 2390)
  .attr("fill", "none").attr("stroke", "#000").attr("stroke-width", 2);
panelLetter("F", 937, 1044);

// colour legend of F
function vGradient(id, fn) {
  var grad = defs.append("linearGradient").attr("id", id).attr("x1", 0).attr("x2", 0).attr("y1", 0).attr("y2", 1);
  d3.range(0, 1.001, 0.05).forEach(function(t) {
    grad.append("stop").attr("offset", t).attr("stop-color", fn(1 - t));
  });
  return "url(#" + id + ")";
}
svg.append("text").attr("class", "bold").attr("x", 3763).attr("y", 2063).style("font-size", "16.5px").text("Commun. Prob.");
svg.append("rect").attr("x", 3763).attr("y", 2072.7).attr("width", 16).attr("height", 180.5).attr("fill", vGradient("gradProb", spectral));
svg.append("text").attr("class", "bold").attr("x", 3787).attr("y", 2077).style("font-size", "12px").text("max");
svg.append("text").attr("class", "bold").attr("x", 3787).attr("y", 2258).style("font-size", "12px").text("min");
svg.append("text").attr("class", "bold").attr("x", 3763).attr("y", 2313).style("font-size", "17px").text("p−value");
svg.append("circle").attr("cx", 3781.7).attr("cy", 2340.7).attr("r", 5);
svg.append("circle").attr("cx", 3781.7).attr("cy", 2376.7).attr("r", 7.3);
svg.append("text").attr("class", "bold").attr("x", 3807.7).attr("y", 2344.3).style("font-size", "12.5px").text("0.01 < p < 0.05");
svg.append("text").attr("class", "bold").attr("x", 3807.7).attr("y", 2380.3).style("font-size", "12.5px").text("p < 0.01");

// ---- G, H feature plots ----
var exprRamp = d3.scaleLinear().domain([0, 0.4, 1]).range(["#D3D3D3", "#F2917A", "#FF1E0A"]);
function featurePlot(name, levels, ticks, maxLevel, yTop, yBottom, yBar0, yBarMax, titleY, labelY, gradId) {
  var x = d3.scaleLinear().domain([-11.2, 16.28]).range([106, 815]);
  var y = d3.scaleLinear().domain([-13.5, 18.44]).range([yBottom, yTop]);
  var expr = d3.scaleLinear().domain([0, maxLevel]).range([0, 1]).clamp(true);
  var colorOf = function(v) { return exprRamp(expr(v)); };
  var line = blobLine(x, y);
  featOutlines.forEach(function(o, i) {
    var c = colorOf(levels[i]);
    svg.append("path").attr("d", line(o)).attr("fill", c).attr("stroke", speckle(c, 1.3, 0.6)).attr("stroke-width", 7);
    svg.append("path").attr("d", line(o)).attr("fill", speckle("#D3D3D3", 1.3, 0.6));
    svg.append("path").attr("d", line(o)).attr("fill", speckle(colorOf(levels[i] * 1.6), 1.3, 0.75));
    svg.append("path").attr("d", line(o)).attr("fill", speckle("#FFFFFF", 0.9, 1.3));
  });
  umapAxes(x, y, [-10, -5, 0, 5, 10, 15], [-10, 0, 10], 24);
  axisTitle(name, 460, titleY, 30);
  axisTitle("UMAP_1", 460, labelY, 26);
  axisTitle("UMAP_2", 38, (yTop + yBottom) / 2 - 1, 26, true);
  var barY = d3.scaleLinear().domain([0, maxLevel]).range([yBar0, yBarMax]);
  svg.append("rect").attr("x", 844).attr("y", yBarMax).attr("width", 33).attr("height", yBar0 - yBarMax)
    .attr("fill", vGradient(gradId, exprRamp));
  ticks.forEach(function(t) {
    svg.append("text").attr("class", "bold").attr("x", 888).attr("y", barY(t) + 8).style("font-size", "24px").text(t);
  });
}
featurePlot("CD74", cd74Levels, cd74Ticks, 7.2, 2452, 2973.4, 2799, 2638.6, 2432, 3036, "gradCd74");
featurePlot("CD44", cd44Levels, cd44Ticks, 4.6, 3135, 3657, 3482.6, 3324, 3116, 3720.6, "gradCd44");
panelLetter("G", 8, 2413);
panelLetter("H", 8, 3096);
</script>
</body>
</html>
